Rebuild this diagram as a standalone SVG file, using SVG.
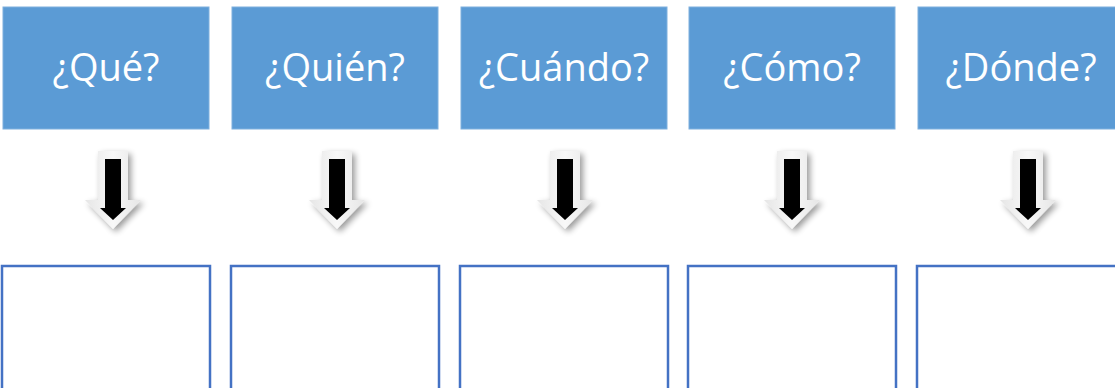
<svg xmlns="http://www.w3.org/2000/svg" width="1115" height="388" viewBox="0 0 1115 388">
<style>
.top{fill:#5B9BD5;stroke:#7FB0DE;stroke-width:1}
.lbl{font-family:"Open Sans","Noto Sans",sans-serif;font-size:38px;fill:#FFFFFF;text-anchor:middle}
.bot{fill:#FFFFFF;stroke:#4472C4;stroke-width:2.5}
.outer{fill:url(#g);filter:url(#sh)}
.inner{fill:#000000}
</style>
<defs>
<linearGradient id="g" x1="0" y1="0" x2="1" y2="0">
<stop offset="0" stop-color="#E6E6E6"/>
<stop offset="0.5" stop-color="#F8F8F8"/>
<stop offset="1" stop-color="#E6E6E6"/>
</linearGradient>
<filter id="sh" x="-40%" y="-20%" width="180%" height="160%">
<feGaussianBlur in="SourceAlpha" stdDeviation="3"/>
<feOffset dx="3" dy="3" result="b"/>
<feComponentTransfer><feFuncA type="linear" slope="0.4"/></feComponentTransfer>
<feMerge><feMergeNode/><feMergeNode in="SourceGraphic"/></feMerge>
</filter>
<g id="arr">
<path class="outer" d="M-15,151 H15 V200 H28 L0,229 L-28,200 H-15 Z"/>
<path class="inner" d="M-8,159 H8 V208 H13 L0,220 L-13,208 H-8 Z"/>
</g>
</defs>
<g id="node-que"><rect class="top" x="3" y="7" width="206" height="122"/><text class="lbl" x="106" y="81">¿Qué?</text></g>
<g id="node-quien"><rect class="top" x="232" y="7" width="206" height="122"/><text class="lbl" x="335" y="81">¿Quién?</text></g>
<g id="node-cuando"><rect class="top" x="461" y="7" width="206" height="122"/><text class="lbl" x="564" y="81">¿Cuándo?</text></g>
<g id="node-como"><rect class="top" x="689" y="7" width="206" height="122"/><text class="lbl" x="792" y="81">¿Cómo?</text></g>
<g id="node-donde"><rect class="top" x="918" y="7" width="206" height="122"/><text class="lbl" x="1021" y="81">¿Dónde?</text></g>
<g id="connectors">
<use href="#arr" x="113"/>
<use href="#arr" x="337"/>
<use href="#arr" x="565"/>
<use href="#arr" x="792"/>
<use href="#arr" x="1028"/>
</g>
<g id="box-1"><rect class="bot" x="2" y="266" width="208" height="200"/></g>
<g id="box-2"><rect class="bot" x="231" y="266" width="208" height="200"/></g>
<g id="box-3"><rect class="bot" x="460" y="266" width="208" height="200"/></g>
<g id="box-4"><rect class="bot" x="688" y="266" width="208" height="200"/></g>
<g id="box-5"><rect class="bot" x="917" y="266" width="208" height="200"/></g>
</svg>
